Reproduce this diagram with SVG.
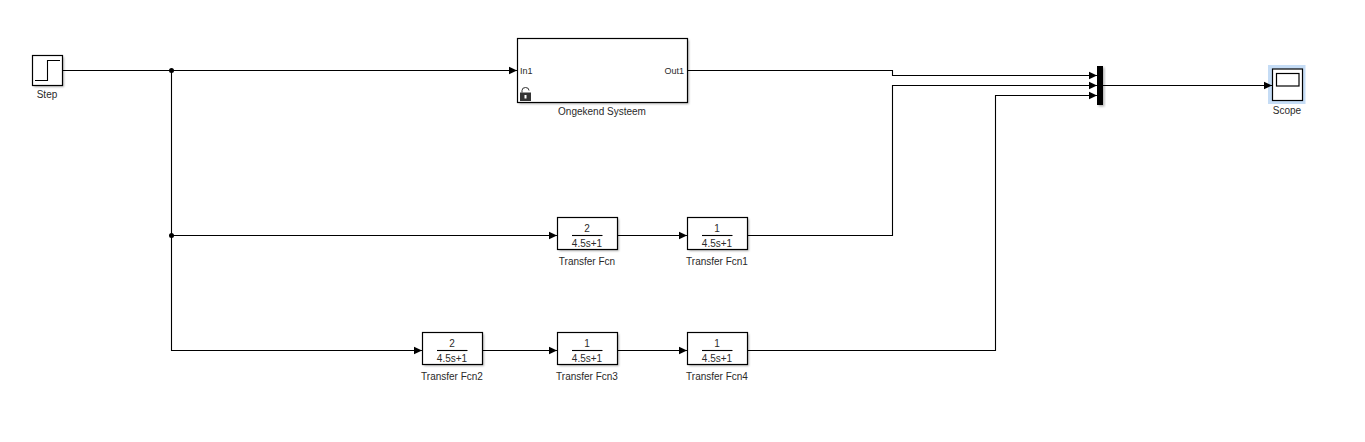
<svg xmlns="http://www.w3.org/2000/svg" width="1365" height="442" viewBox="0 0 1365 442">
<style>
text{font-family:"Liberation Sans",Arial,sans-serif;font-size:10px;fill:#2a2a2a;text-anchor:middle}
.b{fill:#fff;stroke:#000;stroke-width:1.2}
.s{fill:#000;opacity:.3;filter:url(#blur)}
.c{fill:none;stroke:#000;stroke-width:1.1}
.a{fill:#000}
</style>
<defs>
<filter id="blur" x="-20%" y="-20%" width="140%" height="140%"><feGaussianBlur stdDeviation="1.2"/></filter>
<marker id="arr" markerUnits="userSpaceOnUse" markerWidth="9" markerHeight="9" refX="8" refY="4.5" orient="auto"><path class="a" d="M0 0.7L8 4.5L0 8.3Z"/></marker>
</defs>
<rect width="1365" height="442" fill="#fff"/>
<g id="step">
<rect class="s" x="34" y="57" width="30" height="30"/>
<rect class="b" x="32.5" y="55.500" width="30" height="30"/>
<path class="c" d="M35 80.500H47.500V60.500H60"/>
<text x="47" y="97.500">Step</text>
</g>
<g id="ongekend-systeem">
<rect class="s" x="519" y="40" width="170" height="64"/>
<rect class="b" x="517.500" y="38.500" width="170" height="64"/>
<text x="520" y="73.500" style="text-anchor:start;font-size:9px">In1</text>
<text x="684" y="73.500" style="text-anchor:end;font-size:9px">Out1</text>
<path d="M522 92.500V90.500a3.500 3 0 0 1 7 0" fill="none" stroke="#333" stroke-width="1"/>
<rect x="520" y="92.500" width="11" height="8.500" fill="#333"/>
<rect x="524.500" y="95" width="2" height="3.500" fill="#fff"/>
<text x="602" y="114.500">Ongekend Systeem</text>
</g>
<g id="transfer-fcn">
<rect class="s" x="559" y="219" width="60" height="32"/>
<rect class="b" x="557.500" y="217.500" width="60" height="32"/>
<text x="587" y="232">2</text>
<path class="c" d="M572 235.500H602.500"/>
<text x="587" y="247">4.5s+1</text>
<text x="587" y="264.500">Transfer Fcn</text>
</g>
<g id="transfer-fcn1">
<rect class="s" x="689" y="219" width="60" height="32"/>
<rect class="b" x="687.500" y="217.500" width="60" height="32"/>
<text x="717" y="232">1</text>
<path class="c" d="M702 235.500H732.500"/>
<text x="717" y="247">4.5s+1</text>
<text x="717" y="264.500">Transfer Fcn1</text>
</g>
<g id="transfer-fcn2">
<rect class="s" x="424" y="334" width="60" height="32"/>
<rect class="b" x="422.500" y="332.500" width="60" height="32"/>
<text x="452" y="347">2</text>
<path class="c" d="M437 350.500H467.500"/>
<text x="452" y="362">4.5s+1</text>
<text x="452" y="379.500">Transfer Fcn2</text>
</g>
<g id="transfer-fcn3">
<rect class="s" x="559" y="334" width="60" height="32"/>
<rect class="b" x="557.500" y="332.500" width="60" height="32"/>
<text x="587" y="347">1</text>
<path class="c" d="M572 350.500H602.500"/>
<text x="587" y="362">4.5s+1</text>
<text x="587" y="379.500">Transfer Fcn3</text>
</g>
<g id="transfer-fcn4">
<rect class="s" x="689" y="334" width="60" height="32"/>
<rect class="b" x="687.500" y="332.500" width="60" height="32"/>
<text x="717" y="347">1</text>
<path class="c" d="M702 350.500H732.500"/>
<text x="717" y="362">4.5s+1</text>
<text x="717" y="379.500">Transfer Fcn4</text>
</g>
<g id="mux">
<rect class="s" x="1098.500" y="67.500" width="6" height="39"/>
<rect class="a" x="1097" y="66" width="6" height="39"/>
</g>
<g id="scope">
<rect x="1268" y="65" width="37.500" height="39" fill="#c5dcf5"/>
<rect class="b" x="1272.500" y="69" width="30" height="31.500"/>
<rect class="b" x="1276.500" y="73.500" width="22.500" height="12.500"/>
<text x="1287" y="113.500">Scope</text>
</g>
<g id="connectors">
<path class="c" marker-end="url(#arr)" d="M63 70.500H517"/>
<path class="c" marker-end="url(#arr)" d="M171.500 70.500V350.500H422"/>
<path class="c" marker-end="url(#arr)" d="M171.500 235.500H557"/>
<path class="c" marker-end="url(#arr)" d="M618 235.500H687"/>
<path class="c" marker-end="url(#arr)" d="M483 350.500H557"/>
<path class="c" marker-end="url(#arr)" d="M618 350.500H687"/>
<path class="c" marker-end="url(#arr)" d="M688 70.500H892.500V75.500H1097"/>
<path class="c" marker-end="url(#arr)" d="M748 235.500H892.500V85.500H1097"/>
<path class="c" marker-end="url(#arr)" d="M748 350.500H995.500V95.500H1097"/>
<path class="c" marker-end="url(#arr)" d="M1103 85.500H1272"/>
<circle class="a" cx="171.500" cy="70.500" r="2.500"/>
<circle class="a" cx="171.500" cy="235.500" r="2.500"/>
</g>
</svg>
